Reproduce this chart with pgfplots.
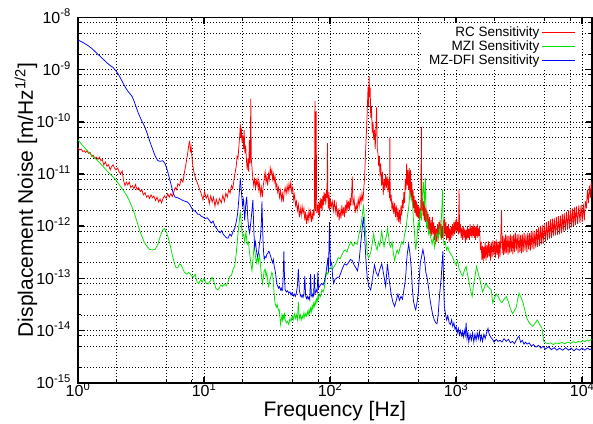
\documentclass[border=0pt]{standalone}
\usepackage{fontspec}
\setmainfont{Liberation Sans}
\usepackage{pgfplots}
\pgfplotsset{compat=1.18}

\definecolor{gpred}{RGB}{255,0,0}
\definecolor{gpgreen}{RGB}{0,225,0}
\definecolor{gpblue}{RGB}{0,0,255}

\begin{document}
\begin{tikzpicture}
\begin{axis}[
    scale only axis,
    width=513.7pt, height=365.2pt,
    xmode=log, ymode=log,
    xmin=1, xmax=11900,
    ymin=1e-15, ymax=1e-8,
    no markers,
    axis line style={line width=1.8pt},
    major tick length=6pt, minor tick length=3pt,
    major tick style={line width=1.4pt, black},
    minor tick style={line width=0.7pt, black},
    grid=both,
    major grid style={black, line width=0.6pt, dash pattern=on 1pt off 2pt},
    minor grid style={black, line width=0.6pt, dash pattern=on 1pt off 2pt},
    xtick={1,10,100,1000,10000},
    xticklabels={10\textsuperscript{0},10\textsuperscript{1},10\textsuperscript{2},10\textsuperscript{3},10\textsuperscript{4}},
    minor xtick={2,5,8,20,50,80,200,500,800,2000,5000,8000},
    ytick={1e-15,1e-14,1e-13,1e-12,1e-11,1e-10,1e-9,1e-8},
    yticklabels={10\textsuperscript{-15},10\textsuperscript{-14},10\textsuperscript{-13},10\textsuperscript{-12},10\textsuperscript{-11},10\textsuperscript{-10},10\textsuperscript{-9},10\textsuperscript{-8}},
    minor ytick={2e-15,5e-15,8e-15,2e-14,5e-14,8e-14,2e-13,5e-13,8e-13,2e-12,5e-12,8e-12,2e-11,5e-11,8e-11,2e-10,5e-10,8e-10,2e-9,5e-9,8e-9},
    xticklabel style={font=\fontsize{16}{16}\selectfont, anchor=base, yshift=-14pt, inner sep=0pt},
    yticklabel style={font=\fontsize{16}{16}\selectfont, anchor=base east, xshift=-7pt, yshift=-5.7pt, inner sep=0pt},
    xlabel={Frequency [Hz]},
    ylabel={Displacement Noise [m/Hz\textsuperscript{1/2}]},
    xlabel style={font=\fontsize{21}{21}\selectfont, at={(axis description cs:0.5,-0.092)}, anchor=base, inner sep=0pt},
    ylabel style={font=\fontsize{21}{21}\selectfont, at={(axis description cs:-0.0876,0.5)}, anchor=base, inner sep=0pt},
    legend style={at={(rel axis cs:0.977,0.985)}, anchor=north east, draw=none, fill=white,
        font=\fontsize{13.5}{14}\selectfont, row sep=-1.5pt, inner xsep=4pt, inner ysep=2pt},
    legend cell align=right,
    legend plot pos=right,
    legend image code/.code={\draw[#1, line width=1.3pt] (0pt,0pt) -- (33pt,0pt);},
]

% RC sensitivity
\addplot[gpred, line width=0.75pt] coordinates {
(1.00,3.2e-11)(1.03,2.9e-11)(1.06,3.0e-11)(1.09,2.7e-11)(1.12,2.8e-11)(1.15,2.6e-11)(1.18,2.8e-11)(1.21,2.5e-11)(1.25,2.6e-11)(1.28,2.2e-11)(1.32,2.3e-11)(1.36,2.0e-11)(1.40,2.1e-11)(1.44,1.9e-11)(1.48,2.1e-11)(1.52,1.8e-11)(1.56,1.9e-11)(1.60,1.5e-11)(1.65,1.7e-11)(1.70,1.4e-11)(1.75,1.5e-11)(1.80,1.2e-11)(1.85,1.4e-11)(1.90,1.5e-11)(1.95,1.3e-11)(2.00,1.2e-11)(2.06,1.3e-11)(2.12,1.1e-11)(2.18,1.0e-11)(2.24,1.15e-11)(2.30,7.5e-12)(2.36,6.0e-12)(2.42,7.0e-12)(2.48,6.2e-12)(2.55,7.0e-12)(2.62,5.5e-12)(2.70,6.0e-12)(2.78,5.2e-12)(2.86,6.3e-12)(2.94,5.0e-12)(3.03,5.5e-12)(3.12,4.6e-12)(3.21,5.0e-12)(3.30,4.0e-12)(3.40,4.4e-12)(3.50,3.6e-12)(3.60,3.9e-12)(3.70,3.4e-12)(3.80,4.0e-12)(3.90,3.5e-12)(4.00,3.8e-12)(4.12,3.1e-12)(4.24,3.6e-12)(4.36,2.9e-12)(4.48,3.3e-12)(4.60,2.8e-12)(4.72,3.4e-12)(4.85,3.8e-12)(5.00,3.4e-12)(5.15,4.2e-12)(5.30,3.6e-12)(5.45,4.2e-12)(5.60,3.7e-12)(5.75,4.5e-12)(5.90,5.5e-12)(6.05,5.0e-12)(6.2,6.5e-12)(6.4,6.0e-12)(6.6,8.0e-12)(6.8,7.0e-12)(7.0,1.1e-11)(7.2,1.6e-11)(7.4,2.4e-11)(7.6,3.9e-11)(7.7,4.2e-11)(7.8,2.6e-11)(7.9,3.3e-11)(8.1,1.6e-11)(8.3,1.1e-11)(8.6,8.0e-12)(8.9,6.5e-12)(9.2,5.2e-12)(9.5,4.2e-12)(9.8,3.2e-12)(10.1,4.5e-12)(10.4,3.4e-12)(10.7,4.0e-12)(11.0,2.7e-12)(11.3,3.8e-12)(11.6,2.9e-12)(11.9,3.6e-12)(12.2,2.4e-12)(12.5,3.3e-12)(12.9,2.6e-12)(13.3,3.4e-12)(13.7,2.8e-12)(14.1,3.9e-12)(14.5,3.0e-12)(14.9,4.3e-12)(15.3,3.6e-12)(15.7,5.0e-12)(16.1,4.3e-12)(16.5,6.0e-12)(16.9,5.2e-12)(17.3,8.0e-12)(17.7,1.1e-11)(18.0,1.4e-11)(18.3,2.2e-11)(18.6,2.0e-11)(18.9,3.4e-11)(19.2,5.5e-11)(19.4,9.0e-11)(19.6,5.0e-11)(19.8,7.5e-11)(20.0,4.0e-11)(20.3,5.5e-11)(20.6,3.0e-11)(20.8,7.0e-11)(21.1,2.5e-11)(21.4,3.5e-11)(21.7,1.8e-11)(22.0,1.2e-11)(22.3,2.0e-11)(22.6,1.1e-11)(22.9,4.5e-11)(23.2,1.6e-11)(23.5,2.8e-10)(23.7,2.0e-11)(24.0,1.3e-11)(24.4,8.0e-12)(24.8,6.0e-12)(25.2,8.5e-12)(25.6,5.5e-12)(26.0,7.5e-12)(26.4,6.0e-12)(26.8,8.0e-12)(27.2,5.0e-12)(27.6,6.5e-12)(28.0,4.0e-12)(28.5,5.5e-12)(29.0,3.6e-12)(29.5,6.0e-12)(30.0,8.0e-12)(30.5,1.1e-11)(31.0,7.0e-12)(31.5,9.0e-12)(32.0,6.0e-12)(32.5,1.0e-11)(33.0,8.0e-12)(33.5,1.3e-11)(34.0,1.0e-11)(34.5,1.2e-11)(35.0,8.0e-12)(35.5,1.0e-11)(36.0,7.0e-12)(36.6,9.0e-12)(37.2,5.5e-12)(37.8,6.5e-12)(38.4,4.5e-12)(39.0,5.5e-12)(39.7,3.6e-12)(40.4,4.8e-12)(41.1,3.2e-12)(41.8,4.2e-12)(42.5,2.9e-12)(43.2,4.5e-12)(44.0,5.5e-12)(44.8,4.2e-12)(45.6,6.0e-12)(46.4,4.5e-12)(47.2,6.5e-12)(48.0,5.0e-12)(48.8,7.0e-12)(49.6,4.5e-12)(50.5,5.5e-12)(51.4,3.2e-12)(52.3,4.0e-12)(53.2,2.5e-12)(54.1,3.0e-12)(55.0,2.0e-12)(56.0,2.6e-12)(57.0,1.5e-12)(58.0,2.2e-12)(59.0,1.6e-12)(60.0,2.4e-12)(61.0,1.8e-12)(62.0,2.2e-12)(63.0,1.3e-12)(64.0,1.9e-12)(65.0,1.1e-12)(66.0,1.6e-12)(67.0,1.3e-12)(68.0,2.0e-12)(69.0,1.5e-12)(70.0,1.9e-12)(71.0,1.2e-12)(72.0,1.7e-12)(73.0,1.4e-12)(74.0,2.1e-12)(75.0,1.6e-12)(75.8,2.5e-10)(76.5,2.0e-12)(77.5,1.6e-10)(78.3,1.8e-12)(79.5,2.6e-12)(80.5,1.7e-12)(81.5,2.8e-12)(82.5,1.5e-12)(83.5,3.5e-12)(84.5,2.2e-12)(85.5,3.3e-12)(86.5,2.0e-12)(87.5,3.8e-12)(88.5,2.5e-12)(89.5,4.5e-12)(90.5,3.0e-12)(91.5,4.2e-12)(92.5,2.6e-12)(93.5,5.0e-12)(94.5,3.5e-12)(95.3,3.9e-11)(96.0,4.0e-12)(97.0,2.2e-12)(98.0,4.5e-12)(99.0,2.0e-12)
(100,3.5e-12)(102,2.3e-12)(104,3.0e-12)(106,2.0e-12)(108,3.2e-12)(110,1.9e-12)(112,2.6e-12)(114,1.5e-12)(116,2.2e-12)(118,1.3e-12)(120,2.0e-12)(122,1.4e-12)(124,2.5e-12)(126,1.6e-12)(128,2.3e-12)(130,1.5e-12)(132,2.6e-12)(134,1.8e-12)(136,3.2e-12)(138,2.2e-12)(140,3.0e-12)(142,2.0e-12)(144,3.5e-12)(146,2.4e-12)(148,4.0e-12)(150,8.9e-12)(152,2.5e-12)(155,3.4e-12)(158,1.8e-12)(161,2.6e-12)(164,2.0e-12)(167,3.3e-12)(170,2.4e-12)(173,3.8e-12)(176,2.8e-12)(179,4.2e-12)(182,3.0e-12)(185,5.0e-12)(188,9.0e-12)(191,2.5e-11)(194,6.0e-11)(197,1.5e-10)(200,4.7e-10)(202,2.0e-10)(204,7.4e-10)(206,3.0e-10)(208,4.5e-10)(210,1.2e-10)(213,2.0e-10)(216,6.0e-11)(219,1.0e-10)(222,4.5e-11)(225,7.0e-11)(228,3.0e-11)(231,8.0e-11)(234,1.9e-10)(237,3.0e-11)(240,2.5e-11)(243,1.4e-11)(246,2.2e-11)(249,9.0e-12)(252,1.6e-11)(256,6.0e-12)(260,1.1e-11)(264,4.0e-12)(268,8.0e-12)(272,5.0e-12)(276,1.0e-11)(280,5.5e-12)(284,9.0e-12)(288,4.5e-12)(292,8.0e-12)(296,3.5e-12)(298,5.0e-11)(300,3.0e-12)(305,4.0e-12)(310,2.0e-12)(315,3.0e-12)(320,1.7e-12)(325,2.8e-12)(330,1.5e-12)(335,2.5e-12)(340,1.3e-12)(345,2.2e-12)(350,1.2e-12)(355,2.0e-12)(360,1.1e-12)(365,2.5e-12)(370,1.6e-12)(375,3.2e-12)(380,2.2e-12)(385,4.5e-12)(390,2.8e-12)(395,8.0e-12)(400,5.0e-12)(405,1.6e-11)(410,6.0e-12)(415,1.2e-11)(420,5.0e-12)(425,1.3e-11)(430,4.0e-12)(435,1.2e-11)(440,3.5e-12)(445,7.0e-12)(450,2.8e-12)(455,5.0e-12)(460,2.2e-12)(465,3.8e-12)(470,1.8e-12)(475,3.2e-12)(480,1.6e-12)(485,3.0e-12)(490,1.5e-12)(495,2.6e-12)(500,1.4e-12)(506,2.4e-12)(512,1.3e-12)(518,2.2e-12)(524,1.6e-12)(530,8.0e-11)(534,2.0e-12)(540,3.5e-12)(546,1.6e-12)(552,3.0e-12)(558,1.3e-12)(564,2.6e-12)(570,1.2e-12)(576,2.2e-12)(582,1.0e-12)(588,2.0e-12)(594,9.0e-13)(600,1.7e-12)(608,8.0e-13)(616,1.5e-12)(624,7.0e-13)(632,1.3e-12)(640,6.5e-13)(648,1.5e-12)(656,7.0e-13)(664,1.2e-12)(672,5.5e-13)(680,1.0e-12)(688,4.5e-13)(696,9.0e-13)(704,5.0e-13)(712,1.1e-12)(720,6.0e-13)(728,1.2e-12)(736,7.0e-13)(744,1.3e-12)(752,6.5e-13)(760,1.1e-12)(768,5.5e-13)(776,1.0e-12)(784,6.0e-13)(792,1.3e-12)(800,7.0e-13)(810,1.4e-12)(820,6.5e-13)(830,1.2e-12)(840,5.5e-13)(850,1.0e-12)(860,6.0e-13)(870,1.1e-12)(880,5.0e-13)(890,9.0e-13)(900,5.5e-13)(912,1.0e-12)(924,6.0e-13)(936,1.1e-12)(948,6.5e-13)(960,1.2e-12)(972,7.0e-13)(984,1.3e-12)(996,8.0e-13)
(1008,1.4e-12)(1020,8.0e-13)(1032,1.2e-12)(1044,7.0e-13)(1055,5.0e-12)(1065,7.5e-13)(1080,1.1e-12)(1095,6.0e-13)(1110,9.5e-13)(1125,5.5e-13)(1140,1.0e-12)(1155,6.0e-13)(1170,9.0e-13)(1185,5.0e-13)(1200,8.5e-13)(1215,5.5e-13)(1230,1.0e-12)(1245,6.0e-13)(1260,9.0e-13)(1275,5.5e-13)(1290,1.1e-12)(1305,6.5e-13)(1320,9.5e-13)(1335,6.0e-13)(1350,1.0e-12)(1365,6.5e-13)(1380,1.1e-12)(1395,6.0e-13)(1410,9.5e-13)(1425,5.5e-13)(1440,1.0e-12)(1455,6.5e-13)(1470,1.1e-12)(1485,6.0e-13)(1500,9.0e-13)(1515,6.5e-13)(1530,1.0e-12)(1545,6.0e-13)
(1560,3.5e-13)(1580,5.0e-13)(1600,2.3e-13)(1620,4.2e-13)(1640,2.1e-13)(1660,4.0e-13)(1680,2.4e-13)(1700,5.0e-13)(1725,2.2e-13)(1750,4.4e-13)(1775,2.5e-13)(1800,5.2e-13)(1825,2.6e-13)(1850,4.6e-13)(1875,2.2e-13)(1900,5.0e-13)(1930,2.6e-13)(1960,5.4e-13)(1990,2.8e-13)(2020,5.2e-13)(2050,2.5e-13)(2080,5.6e-13)(2110,2.8e-13)(2140,5.0e-13)(2170,2.4e-13)(2200,5.2e-13)(2230,2.6e-13)(2260,6.0e-13)(2290,2.0e-12)(2320,3.0e-13)(2350,6.5e-13)(2380,2.8e-13)(2410,6.0e-13)(2440,3.0e-13)(2470,7.0e-13)(2500,3.0e-13)(2540,6.5e-13)(2580,2.8e-13)(2620,6.5e-13)(2660,3.0e-13)(2700,7.0e-13)(2740,3.2e-13)(2780,6.5e-13)(2820,2.9e-13)(2860,7.0e-13)(2900,3.2e-13)(2950,7.5e-13)(3000,3.4e-13)(3050,7.0e-13)(3100,3.0e-13)(3150,7.2e-13)(3200,3.2e-13)(3250,6.8e-13)(3300,3.0e-13)(3350,7.0e-13)(3400,3.2e-13)(3460,7.5e-13)(3520,3.4e-13)(3580,7.0e-13)(3640,3.2e-13)(3700,7.5e-13)(3760,3.6e-13)(3820,7.4e-13)(3880,3.4e-13)(3940,8.0e-13)(4000,3.7e-13)(4070,8.2e-13)(4140,3.6e-13)(4210,8.0e-13)(4280,3.9e-13)(4350,8.8e-13)(4420,4.0e-13)(4500,9.5e-13)(4580,4.2e-13)(4660,1.0e-12)(4740,4.5e-13)(4820,1.05e-12)(4900,4.6e-13)(5000,1.1e-12)(5100,5.0e-13)(5200,1.2e-12)(5300,5.4e-13)(5400,1.25e-12)(5500,5.8e-13)(5600,1.35e-12)(5700,6.0e-13)(5800,1.4e-12)(5900,6.4e-13)(6000,1.45e-12)(6120,6.6e-13)(6240,1.5e-12)(6360,6.8e-13)(6480,1.55e-12)(6600,7.0e-13)(6720,1.6e-12)(6840,7.4e-13)(6960,1.7e-12)(7080,7.8e-13)(7200,1.8e-12)(7350,8.2e-13)(7500,1.9e-12)(7650,8.6e-13)(7800,2.0e-12)(7950,9.0e-13)(8100,2.1e-12)(8250,9.5e-13)(8400,2.2e-12)(8550,1.0e-12)(8700,2.3e-12)(8850,1.05e-12)(9000,2.4e-12)(9200,1.1e-12)(9400,2.5e-12)(9600,1.15e-12)(9800,2.6e-12)(10000,1.2e-12)(10200,2.7e-12)(10400,1.3e-12)(10600,3.0e-12)(10800,2.2e-12)(11000,5.0e-12)(11200,2.8e-12)(11400,6.0e-12)(11600,3.5e-12)(11800,7.0e-12)(11900,5.0e-12)
};
\addlegendentry{RC Sensitivity}

% MZI sensitivity
\addplot[gpgreen, line width=0.75pt] coordinates {
(1.00,4.5e-11)(1.10,3.4e-11)(1.20,2.7e-11)(1.30,2.2e-11)(1.40,1.9e-11)(1.50,1.6e-11)(1.60,1.35e-11)(1.70,1.15e-11)(1.80,1.0e-11)(1.90,8.8e-12)(2.00,7.6e-12)(2.15,6.0e-12)(2.30,4.8e-12)(2.45,3.8e-12)(2.60,2.8e-12)(2.75,2.0e-12)(2.90,1.35e-12)(3.05,9.0e-13)(3.2,6.5e-13)(3.35,5.0e-13)(3.5,4.2e-13)(3.7,3.6e-13)(3.9,3.5e-13)(4.1,3.6e-13)(4.3,4.5e-13)(4.5,6.5e-13)(4.7,8.5e-13)(4.85,9.0e-13)(5.0,8.0e-13)(5.2,6.0e-13)(5.4,4.2e-13)(5.6,2.8e-13)(5.8,2.0e-13)(6.0,1.6e-13)(6.2,1.6e-13)(6.4,1.9e-13)(6.6,1.8e-13)(6.8,1.5e-13)(7.0,1.3e-13)(7.3,1.2e-13)(7.6,1.3e-13)(7.9,1.15e-13)(8.2,1.05e-13)(8.5,1.2e-13)(8.8,8.5e-14)(9.1,8.0e-14)(9.4,9.5e-14)(9.7,8.5e-14)(10.0,1.0e-13)(10.4,8.0e-14)(10.8,7.8e-14)(11.2,9.0e-14)(11.6,1.05e-13)(12.0,8.5e-14)(12.4,6.5e-14)(12.8,6.0e-14)(13.2,6.5e-14)(13.6,7.5e-14)(14.0,7.0e-14)(14.5,7.8e-14)(15.0,7.2e-14)(15.5,8.5e-14)(16.0,1.1e-13)(16.5,1.15e-13)(17.0,1.5e-13)(17.5,1.7e-13)(18.0,3.0e-13)(18.5,6.3e-13)(19.0,1.2e-12)(19.4,1.9e-12)(19.8,1.0e-12)(20.2,6.5e-13)(20.6,7.0e-13)(21.0,5.0e-13)(21.5,7.8e-13)(22.0,4.5e-13)(22.5,5.0e-13)(23.0,3.0e-13)(23.5,2.0e-13)(24.0,1.4e-13)(24.5,2.5e-13)(25.0,4.5e-13)(25.5,2.8e-13)(26.0,2.0e-13)(26.5,2.5e-13)(27.0,2.0e-13)(27.5,3.0e-13)(28.0,1.8e-13)(28.5,1.2e-13)(29.0,8.0e-14)(29.5,1.0e-13)(30.0,1.4e-13)(30.5,1.5e-13)(31.0,1.1e-13)(31.5,1.3e-13)(32.0,9.0e-14)(32.5,7.0e-14)(33.0,8.0e-14)(33.5,1.0e-13)(34.0,1.1e-13)(34.5,1.3e-13)(35.0,1.2e-13)(35.5,8.0e-14)(36.0,5.0e-14)(36.5,3.5e-14)(37.0,3.0e-14)(37.5,2.8e-14)(38.0,3.2e-14)(38.5,2.7e-14)(39.0,2.4e-14)(39.5,2.5e-14)(40.0,1.8e-14)(40.5,1.3e-14)(41.0,1.6e-14)(41.5,2.0e-14)(42.0,1.6e-14)(42.5,1.9e-14)(43.0,1.7e-14)(43.5,2.2e-14)(44.0,1.6e-14)(45.0,1.4e-14)(46.0,1.5e-14)(47.0,1.3e-14)(48.0,1.7e-14)(49.0,1.5e-14)(50.0,1.9e-14)(51.0,1.6e-14)(52.0,2.1e-14)(53.0,1.7e-14)(54.0,2.0e-14)(55.0,1.6e-14)(56.0,3.5e-14)(57.0,1.7e-14)(58.0,2.0e-14)(59.0,1.6e-14)(60.0,1.9e-14)(61.0,1.7e-14)(62.0,2.2e-14)(63.0,1.8e-14)(64.0,2.1e-14)(65.0,1.9e-14)(66.0,2.3e-14)(67.0,2.0e-14)(68.0,2.5e-14)(69.0,2.1e-14)(70.0,2.7e-14)(71.0,2.3e-14)(72.0,3.0e-14)(73.0,2.6e-14)(74.0,3.3e-14)(75.0,2.9e-14)(76.0,3.6e-14)(77.0,3.2e-14)(78.0,4.0e-14)(79.0,3.6e-14)(80.0,4.5e-14)(81.0,4.0e-14)(82.0,5.0e-14)(84.0,4.5e-14)(86.0,6.0e-14)(88.0,5.5e-14)(90.0,6.6e-14)(92.0,1.0e-13)(94.0,1.3e-13)(96.0,1.2e-13)(98.0,1.5e-13)
(100,1.6e-13)(104,1.5e-13)(108,1.7e-13)(112,2.0e-13)(116,2.5e-13)(120,2.4e-13)(124,2.8e-13)(128,3.3e-13)(132,3.5e-13)(136,3.2e-13)(140,4.0e-13)(146,5.0e-13)(152,4.2e-13)(158,4.8e-13)(164,4.5e-13)(170,7.2e-13)(174,9.0e-13)(178,1.3e-12)(181,1.8e-12)(184,2.4e-12)(187,1.5e-12)(190,9.0e-13)(194,5.0e-13)(197,3.0e-13)(202,2.5e-13)(207,2.8e-13)(212,3.5e-13)(218,5.5e-13)(222,7.2e-13)(226,5.0e-13)(232,4.0e-13)(236,3.5e-13)(242,5.0e-13)(248,4.2e-13)(253,6.0e-13)(257,8.0e-13)(262,5.5e-13)(268,4.0e-13)(274,5.5e-13)(280,6.5e-13)(285,9.0e-13)(290,7.0e-13)(296,4.5e-13)(302,4.0e-13)(310,5.0e-13)(318,3.0e-13)(325,2.2e-13)(332,2.8e-13)(340,3.5e-13)(350,3.0e-13)(360,4.0e-13)(370,5.0e-13)(380,4.5e-13)(390,7.0e-13)(400,9.0e-13)(410,1.5e-12)(420,2.3e-12)(430,4.3e-12)(440,3.5e-12)(450,2.8e-12)(460,1.2e-12)(470,6.0e-13)(478,3.5e-13)(486,5.0e-13)(494,8.0e-13)(500,1.2e-12)(510,9.0e-13)(520,2.0e-12)(530,1.3e-12)(540,4.0e-12)(550,7.0e-12)(560,2.5e-12)(570,8.3e-12)(578,1.5e-12)(585,9.0e-13)(595,1.2e-12)(605,7.0e-13)(615,8.0e-13)(630,6.0e-13)(645,4.5e-13)(660,6.0e-13)(675,4.0e-13)(690,6.5e-13)(705,7.3e-13)(720,5.5e-13)(735,9.0e-13)(750,6.5e-13)(765,1.5e-12)(780,5.0e-12)(790,1.2e-12)(800,4.5e-13)(820,5.0e-13)(840,3.5e-13)(860,4.0e-13)(880,3.3e-13)(900,3.0e-13)(920,2.8e-13)(940,2.5e-13)(960,2.2e-13)(980,2.0e-13)
(1000,1.8e-13)(1025,2.2e-13)(1050,1.6e-13)(1075,1.4e-13)(1100,1.2e-13)(1130,1.1e-13)(1160,1.4e-13)(1200,1.7e-13)(1230,1.2e-13)(1260,9.0e-14)(1300,6.0e-14)(1340,4.5e-14)(1380,8.0e-14)(1420,1.2e-13)(1450,1.7e-13)(1480,1.4e-13)(1520,1.1e-13)(1570,8.0e-14)(1620,5.5e-14)(1670,6.5e-14)(1720,8.0e-14)(1780,7.0e-14)(1840,6.5e-14)(1900,6.0e-14)(1950,3.4e-14)(2000,4.0e-14)(2080,5.0e-14)(2150,4.5e-14)(2230,3.8e-14)(2310,3.4e-14)(2400,4.0e-14)(2500,4.5e-14)(2600,3.5e-14)(2700,2.6e-14)(2800,2.1e-14)(2900,2.4e-14)(3000,2.8e-14)(3080,4.0e-14)(3150,5.2e-14)(3250,4.5e-14)(3400,3.4e-14)(3500,2.5e-14)(3650,1.7e-14)(3800,1.4e-14)(4050,1.2e-14)(4250,1.4e-14)(4400,1.6e-14)(4600,1.3e-14)(4800,1.1e-14)(4950,6.2e-15)(5150,5.8e-15)(5350,5.6e-15)(5600,5.8e-15)(5900,5.4e-15)(6200,5.8e-15)(6500,5.6e-15)(6900,5.9e-15)(7300,5.6e-15)(7700,6.0e-15)(8100,5.7e-15)(8500,6.1e-15)(8900,5.8e-15)(9300,6.2e-15)(9700,6.0e-15)(10100,6.4e-15)(10500,6.1e-15)(10900,6.6e-15)(11300,6.3e-15)(11900,6.8e-15)
};
\addlegendentry{MZI Sensitivity}

% MZ-DFI sensitivity
\addplot[gpblue, line width=0.75pt] coordinates {
(1.00,3.7e-9)(1.10,3.3e-9)(1.20,2.9e-9)(1.30,2.5e-9)(1.40,2.1e-9)(1.50,1.8e-9)(1.60,1.55e-9)(1.70,1.35e-9)(1.80,1.2e-9)(1.90,1.1e-9)(2.00,9.5e-10)(2.10,8.0e-10)(2.20,6.5e-10)(2.30,5.3e-10)(2.40,4.4e-10)(2.50,3.8e-10)(2.60,3.4e-10)(2.70,3.0e-10)(2.80,2.4e-10)(2.90,1.9e-10)(3.00,1.5e-10)(3.10,1.25e-10)(3.20,1.05e-10)(3.35,8.5e-11)(3.50,6.5e-11)(3.65,4.8e-11)(3.80,3.6e-11)(3.95,2.8e-11)(4.10,2.2e-11)(4.30,1.8e-11)(4.50,1.75e-11)(4.70,1.8e-11)(4.90,1.6e-11)(5.10,1.2e-11)(5.30,8.5e-12)(5.50,6.0e-12)(5.70,4.2e-12)(5.90,3.6e-12)(6.2,3.5e-12)(6.5,3.3e-12)(6.8,3.1e-12)(7.1,3.0e-12)(7.4,2.9e-12)(7.7,2.6e-12)(8.0,2.2e-12)(8.3,2.0e-12)(8.6,1.9e-12)(8.9,1.7e-12)(9.2,1.7e-12)(9.5,1.55e-12)(9.8,1.5e-12)(10.2,1.4e-12)(10.6,1.45e-12)(11.0,1.3e-12)(11.4,1.15e-12)(11.8,1.25e-12)(12.2,1.0e-12)(12.6,9.0e-13)(13.0,8.0e-13)(13.4,7.5e-13)(13.8,8.2e-13)(14.2,7.0e-13)(14.6,6.5e-13)(15.0,6.0e-13)(15.5,5.9e-13)(16.0,7.0e-13)(16.5,6.5e-13)(17.0,8.0e-13)(17.5,9.0e-13)(18.0,1.2e-12)(18.5,1.8e-12)(19.0,4.0e-12)(19.4,8.3e-12)(19.8,4.5e-12)(20.2,2.5e-12)(20.6,3.2e-12)(21.0,1.3e-12)(21.4,2.5e-12)(21.8,3.7e-12)(22.2,1.5e-12)(22.6,9.0e-13)(23.0,7.4e-13)(23.5,1.2e-12)(24.0,2.0e-12)(24.4,3.2e-12)(24.8,9.0e-13)(25.2,4.0e-13)(25.6,5.0e-13)(26.0,3.5e-13)(26.5,2.6e-13)(27.0,3.0e-13)(27.5,4.5e-13)(28.0,6.0e-13)(28.5,1.2e-12)(28.8,3.0e-12)(29.2,8.0e-13)(29.6,3.5e-13)(30.0,2.3e-13)(30.5,2.6e-13)(31.0,2.5e-13)(31.5,2.9e-13)(32.0,3.0e-13)(32.5,3.3e-13)(33.0,3.2e-13)(33.5,2.8e-13)(34.0,2.5e-13)(34.5,2.2e-13)(35.0,2.0e-13)(35.5,2.3e-13)(36.0,1.7e-13)(36.5,1.5e-13)(37.0,1.2e-13)(37.5,9.0e-14)(38.0,7.5e-14)(38.5,7.0e-14)(39.0,6.5e-14)(39.5,7.0e-14)(40.0,6.5e-14)(40.5,6.0e-14)(41.0,6.5e-14)(41.5,5.8e-14)(42.0,6.0e-14)(42.5,1.2e-13)(43.0,3.3e-13)(43.5,1.0e-13)(44.0,6.0e-14)(45.0,5.5e-14)(46.0,5.8e-14)(47.0,5.2e-14)(48.0,5.5e-14)(49.0,4.8e-14)(50.0,5.3e-14)(51.0,4.6e-14)(52.0,5.0e-14)(53.0,4.5e-14)(54.0,5.2e-14)(55.0,7.0e-14)(56.0,1.5e-13)(57.0,6.0e-14)(58.0,4.8e-14)(59.0,4.4e-14)(60.0,4.8e-14)(61.0,4.3e-14)(62.0,5.0e-14)(63.0,1.1e-13)(64.0,4.6e-14)(65.0,4.1e-14)(66.0,4.5e-14)(67.0,4.0e-14)(68.0,4.4e-14)(69.0,3.9e-14)(70.0,1.2e-13)(71.0,4.8e-14)(72.0,4.4e-14)(73.0,5.0e-14)(74.0,4.6e-14)(75.0,1.2e-13)(76.0,5.2e-14)(77.0,5.5e-14)(78.0,6.0e-14)(79.0,5.5e-14)(80.0,1.3e-13)(81.0,6.5e-14)(82.0,6.9e-14)(84.0,7.5e-14)(86.0,8.0e-14)(88.0,7.5e-14)(90.0,8.7e-14)(92.0,1.1e-13)(94.0,1.6e-13)(96.0,2.5e-13)(97.0,1.3e-13)(98.0,4.0e-13)(99.0,1.2e-12)
(100,3.0e-13)(101,1.8e-13)(103,2.0e-13)(105,1.0e-13)(107,8.0e-14)(109,9.5e-14)(112,1.0e-13)(115,1.05e-13)(118,1.05e-13)(122,1.3e-13)(126,1.6e-13)(130,1.9e-13)(135,1.8e-13)(140,2.0e-13)(145,2.3e-13)(150,2.2e-13)(155,1.8e-13)(160,1.6e-13)(165,1.4e-13)(170,2.2e-13)(174,4.0e-13)(178,7.0e-13)(181,1.1e-12)(184,1.5e-12)(187,8.0e-13)(190,4.0e-13)(193,2.0e-13)(197,1.05e-13)(203,7.0e-14)(210,6.0e-14)(217,1.0e-13)(225,1.8e-13)(232,1.3e-13)(240,1.1e-13)(248,1.5e-13)(257,1.9e-13)(266,1.2e-13)(276,7.0e-14)(285,1.9e-13)(295,9.0e-14)(305,5.0e-14)(315,3.5e-14)(325,2.9e-14)(335,3.8e-14)(345,5.0e-14)(355,3.8e-14)(365,4.5e-14)(375,4.0e-14)(385,6.0e-14)(395,9.0e-14)(400,1.3e-13)(405,2.2e-13)(410,3.0e-13)(420,4.5e-13)(430,3.0e-13)(440,1.6e-13)(450,6.0e-14)(460,3.5e-14)(470,2.8e-14)(478,2.5e-14)(490,3.5e-14)(500,5.0e-14)(510,1.0e-13)(520,2.0e-13)(530,2.5e-13)(545,3.6e-13)(560,2.5e-13)(575,1.3e-13)(590,1.0e-13)(605,6.5e-14)(620,4.0e-14)(635,2.8e-14)(650,2.1e-14)(670,1.6e-14)(690,1.4e-14)(705,1.35e-14)(720,2.0e-14)(740,5.0e-14)(760,1.0e-13)(775,2.0e-13)(785,3.3e-13)(795,1.0e-13)(805,3.0e-14)(820,2.2e-14)(840,1.6e-14)(860,1.9e-14)(880,1.4e-14)(900,1.3e-14)(920,1.6e-14)(940,1.2e-14)(960,1.4e-14)(980,1.05e-14)
(1000,1.2e-14)(1020,9.0e-15)(1040,1.1e-14)(1060,8.3e-15)(1080,1.0e-14)(1100,8.0e-15)(1120,9.5e-15)(1140,7.5e-15)(1160,1.0e-14)(1180,8.0e-15)(1200,1.4e-14)(1220,7.0e-15)(1240,9.0e-15)(1260,6.0e-15)(1290,8.5e-15)(1320,6.5e-15)(1350,9.0e-15)(1380,6.0e-15)(1410,8.5e-15)(1440,6.5e-15)(1470,9.0e-15)(1500,7.0e-15)(1530,9.5e-15)(1560,6.5e-15)(1590,8.0e-15)(1620,6.2e-15)(1660,8.5e-15)(1700,7.0e-15)(1740,9.0e-15)(1790,1.1e-14)(1830,8.5e-15)(1880,7.5e-15)(1950,6.7e-15)(2000,6.0e-15)(2080,6.8e-15)(2150,6.2e-15)(2230,6.5e-15)(2310,6.0e-15)(2400,7.0e-15)(2500,6.2e-15)(2600,6.8e-15)(2700,5.8e-15)(2800,6.2e-15)(2900,5.6e-15)(3000,6.5e-15)(3100,7.5e-15)(3150,7.7e-15)(3250,6.0e-15)(3350,6.5e-15)(3450,5.5e-15)(3550,6.0e-15)(3650,5.5e-15)(3800,5.8e-15)(3950,5.0e-15)(4100,5.4e-15)(4300,4.8e-15)(4500,5.2e-15)(4700,4.6e-15)(4900,5.0e-15)(5100,4.4e-15)(5400,4.9e-15)(5700,4.3e-15)(6000,4.7e-15)(6300,4.2e-15)(6600,4.6e-15)(7000,4.2e-15)(7400,4.7e-15)(7800,4.2e-15)(8200,4.6e-15)(8600,4.1e-15)(9000,4.5e-15)(9500,4.2e-15)(10000,4.6e-15)(10500,4.2e-15)(11000,4.6e-15)(11500,4.3e-15)(11900,4.5e-15)
};
\addlegendentry{MZ-DFI Sensitivity}

\end{axis}
\pgfresetboundingbox
\path (-78pt,-40.3pt) rectangle (515pt,382.7pt);
\end{tikzpicture}
\end{document}
